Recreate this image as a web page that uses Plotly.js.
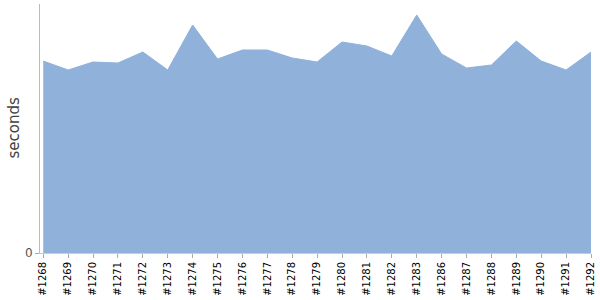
<!DOCTYPE html>
<html>
<head>
<meta charset="utf-8">
<script src="https://cdn.plot.ly/plotly-3.0.1.min.js"></script>
<style>html,body{margin:0;padding:0;background:#fff;}#chart{width:600px;height:300px;}</style>
</head>
<body>
<div id="chart"></div>
<script>
const builds = ["#1268","#1269","#1270","#1271","#1272","#1273","#1274","#1275","#1276","#1277","#1278","#1279","#1280","#1281","#1282","#1283","#1286","#1287","#1288","#1289","#1290","#1291","#1292"];
const seconds = [19.2,18.3,19.1,19.0,20.1,18.3,22.8,19.4,20.3,20.3,19.5,19.1,21.1,20.7,19.7,23.8,19.9,18.5,18.8,21.2,19.2,18.3,20.1];
const yTicks = [0];
const yTickLabels = ["0"];
const yTitle = 'seconds';

const trace = {
  x: builds.map((b, i) => i),
  y: seconds,
  type: 'scatter',
  mode: 'lines',
  fill: 'tozeroy',
  fillcolor: '#8FB1DA',
  line: {color: '#8FB1DA', width: 1},
  hoverinfo: 'none'
};

const layout = {
  width: 600, height: 300,
  margin: {l: 40, r: 9, t: 4, b: 47},
  paper_bgcolor: '#fff', plot_bgcolor: '#fff',
  showlegend: false,
  font: {family: 'DejaVu Sans, sans-serif'},
  xaxis: {
    range: [-0.13, builds.length - 1],
    tickmode: 'array',
    tickvals: builds.map((b, i) => i),
    ticktext: builds,
    tickangle: -90,
    tickfont: {size: 10, color: '#000'},
    ticks: 'outside', ticklen: 4, tickcolor: '#aaa',
    showgrid: false, zeroline: false,
    showline: true, linecolor: '#ccc', linewidth: 1
  },
  yaxis: {
    range: [0, 24.9],
    tickmode: 'array',
    tickvals: yTicks,
    ticktext: yTickLabels,
    tickfont: {size: 12, color: '#555'},
    ticks: 'outside', ticklen: 4, tickcolor: '#aaa',
    showgrid: false, zeroline: false,
    showline: true, linecolor: '#bbb', linewidth: 1
  },
  annotations: [{
    text: yTitle,
    xref: 'paper', yref: 'paper',
    x: 0, y: 0.5,
    xanchor: 'center', yanchor: 'middle',
    xshift: -27,
    textangle: -90,
    showarrow: false,
    font: {family: 'DejaVu Sans, sans-serif', size: 15, color: '#444'}
  }]
};

Plotly.newPlot('chart', [trace], layout, {displayModeBar: false, staticPlot: true});
</script>
</body>
</html>
